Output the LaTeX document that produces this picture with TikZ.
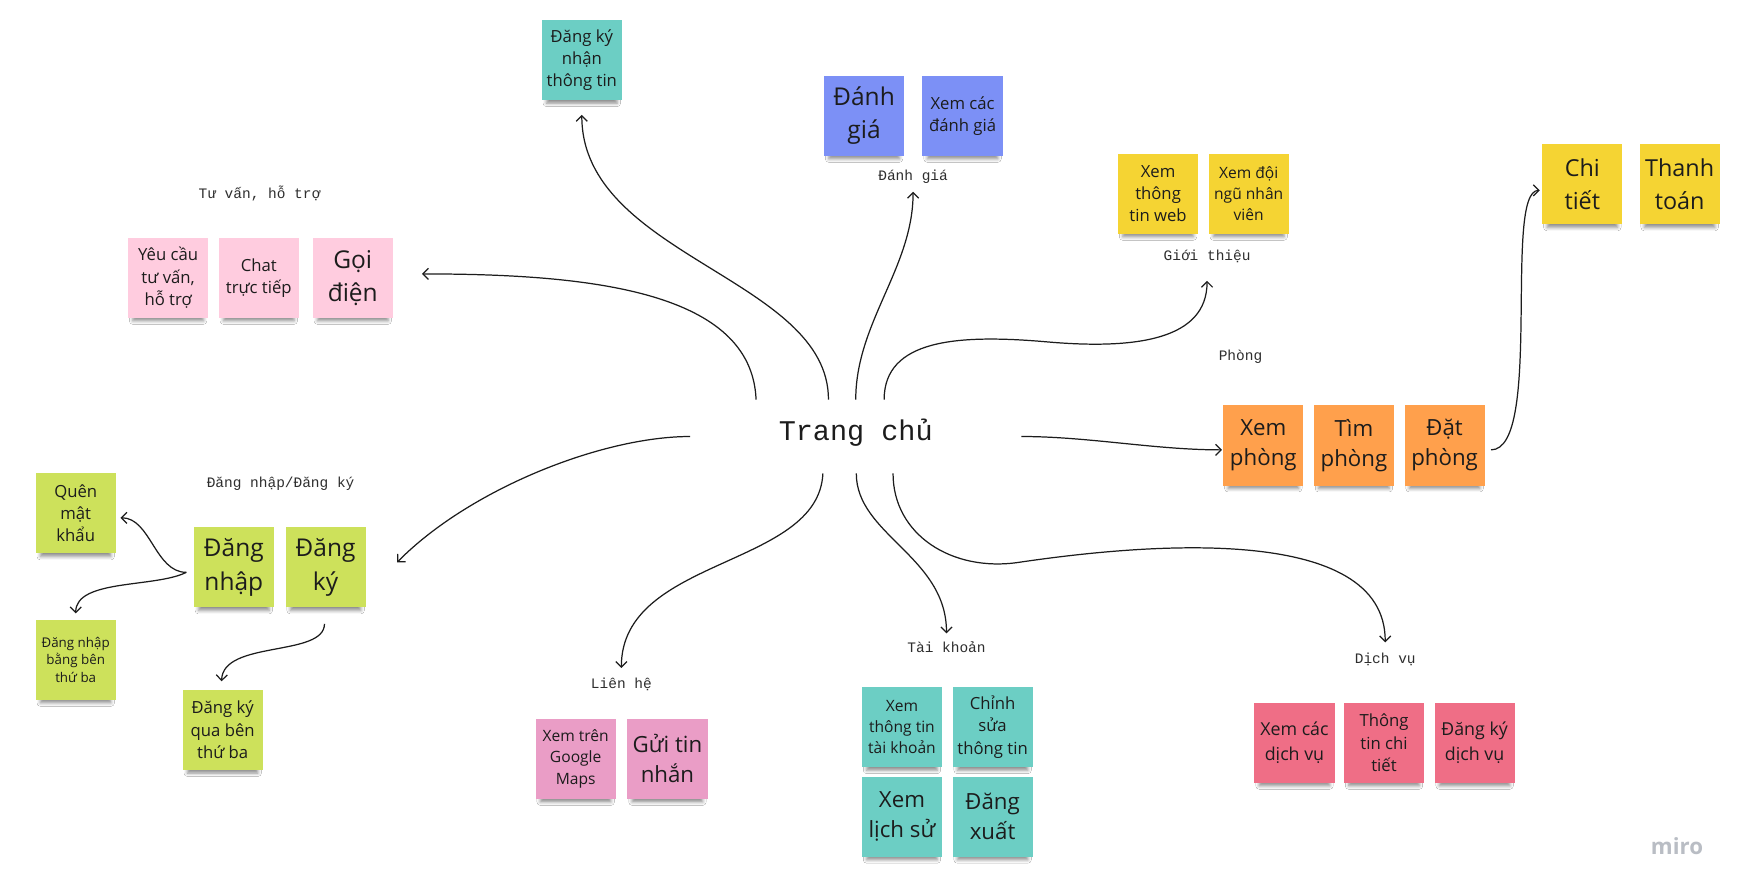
\documentclass[tikz,border=0pt]{standalone}
\usepackage{fontspec}
\setmainfont{Open Sans}
\newfontfamily\monofont{Liberation Mono}
\usetikzlibrary{arrows.meta, positioning, calc, shadows.blur}

\definecolor{ink}{HTML}{1C1C1C}
\definecolor{labelgray}{HTML}{2E2E2E}
\definecolor{stteal}{HTML}{6CCEC4}
\definecolor{stblue}{HTML}{7C90F6}
\definecolor{styellow}{HTML}{F5D433}
\definecolor{stblush}{HTML}{FFCCDF}
\definecolor{storange}{HTML}{FFA04C}
\definecolor{stlime}{HTML}{CDE15B}
\definecolor{stpink}{HTML}{EA9DC6}
\definecolor{stred}{HTML}{EF6E86}
\definecolor{markgray}{HTML}{B9BDC4}

\begin{document}
\begin{tikzpicture}[
    x=1pt, y=-1pt,
    node distance=9pt,
    sticky/.style={rectangle, fill=#1, minimum width=72pt, minimum height=72pt, inner sep=1pt, align=center, text=ink,
        blur shadow={shadow xshift=0pt, shadow yshift=-8pt, shadow scale=0.88, shadow blur radius=3.5pt, shadow opacity=45}},
    txthuge/.style={font=\fontsize{22}{30}\selectfont},
    txtbig/.style={font=\fontsize{20}{27}\selectfont},
    txtmid/.style={font=\fontsize{15}{20}\selectfont},
    txtsmall/.style={font=\fontsize{12}{16}\selectfont},
    grouplabel/.style={font=\monofont\fontsize{13}{15}\selectfont, text=labelgray, inner sep=2pt, text height=9pt, text depth=3pt},
    arrow/.style={-{Straight Barb[length=5pt, width=10pt]}, line width=1.1pt, draw=ink}
]
    \fill[white] (0,0) rectangle (1568,803);
    \useasboundingbox (0,0) rectangle (1568,803);

    % Centre
    \node[font=\monofont\fontsize{25.6}{30}\selectfont, text=ink, inner sep=0pt, text height=37pt, text depth=29pt,
        minimum width=297pt, anchor=base] (home) at (768.5,396) {Trang chủ};

    % Group labels
    \node[grouplabel] (lbtv) at (233,175) {Tư vấn, hỗ trợ};
    \node[grouplabel] (lbdg) at (820,159) {Đánh giá};
    \node[grouplabel] (lbgt) at (1084,231) {Giới thiệu};
    \node[grouplabel] (lbp) at (1114,321) {Phòng};
    \node[grouplabel] (lbdn) at (252,435) {Đăng nhập/Đăng ký};
    \node[grouplabel] (lblh) at (558,615) {Liên hệ};
    \node[grouplabel] (lbtk) at (850,583) {Tài khoản};
    \node[grouplabel] (lbdv) at (1244,593) {Dịch vụ};

    % Top
    \node[sticky=stteal, txtmid] (rcv) at (522.5,54) {Đăng ký\\nhận\\thông tin};
    \node[sticky=stblue, txthuge] (dg1) at (776,104) {Đánh\\giá};
    \node[sticky=stblue, txtmid, right=16pt of dg1] (dg2) {Xem các\\đánh giá};
    \node[sticky=styellow, txtmid] (gt1) at (1040,174) {Xem\\thông\\tin web};
    \node[sticky=styellow, txtmid, font=\fontsize{14}{19}\selectfont, right=of gt1] (gt2) {Xem đội\\ngũ nhân\\viên};
    \node[sticky=styellow, txthuge, font=\fontsize{21}{29}\selectfont] (ct) at (1421,165.5) {Chi\\tiết};
    \node[sticky=styellow, txthuge, font=\fontsize{21}{29}\selectfont, right=15pt of ct] (tt) {Thanh\\toán};

    % Left
    \node[sticky=stblush, txtmid] (tv1) at (151,249.5) {Yêu cầu\\tư vấn,\\hỗ trợ};
    \node[sticky=stblush, txtmid, right=of tv1] (tv2) {Chat\\trực tiếp};
    \node[sticky=stblush, txthuge, right=12pt of tv2] (tv3) {Gọi\\điện};
    \node[sticky=stlime, txtmid] (qmk) at (68,461) {Quên\\mật\\khẩu};
    \node[sticky=stlime, txthuge] (dn) at (210,509.5) {Đăng\\nhập};
    \node[sticky=stlime, txthuge, right=10pt of dn] (dk) {Đăng\\ký};
    \node[sticky=stlime, txtsmall] (dnb) at (68,592.5) {Đăng nhập\\bằng bên\\thứ ba};
    \node[sticky=stlime, txtmid] (dkq) at (200,655.5) {Đăng ký\\qua bên\\thứ ba};

    % Right
    \node[sticky=storange, txtbig] (p1) at (1134.5,400) {Xem\\phòng};
    \node[sticky=storange, txtbig, right=of p1] (p2) {Tìm\\phòng};
    \node[sticky=storange, txtbig, right=of p2] (p3) {Đặt\\phòng};

    % Bottom
    \node[sticky=stpink, txtmid, font=\fontsize{14}{19}\selectfont] (lh1) at (517,681.5) {Xem trên\\Google\\Maps};
    \node[sticky=stpink, txtbig, right=10pt of lh1] (lh2) {Gửi tin\\nhắn};
    \node[sticky=stteal, txtmid, font=\fontsize{14}{19}\selectfont] (tk1) at (810,653) {Xem\\thông tin\\tài khoản};
    \node[sticky=stteal, txtmid, right=of tk1] (tk2) {Chỉnh\\sửa\\thông tin};
    \node[sticky=stteal, txtbig, below=8pt of tk1] (tk3) {Xem\\lịch sử};
    \node[sticky=stteal, txtbig, below=8pt of tk2] (tk4) {Đăng\\xuất};
    \node[sticky=stred, txtmid, font=\fontsize{16}{22}\selectfont] (dv1) at (1162.5,667) {Xem các\\dịch vụ};
    \node[sticky=stred, txtmid, right=8pt of dv1] (dv2) {Thông\\tin chi\\tiết};
    \node[sticky=stred, txtmid, font=\fontsize{16}{22}\selectfont, right=of dv2] (dv3) {Đăng ký\\dịch vụ};

    \node[font=\bfseries\fontsize{20}{24}\selectfont, text=markgray] (mark) at (1506,760) {miro};

    % Arrows from the centre
    \draw[arrow] ([xshift=-89.5pt]home.north) .. controls +(-4,-97) and +(152,0) .. ($(tv3.east)+(26,-3.5)$);
    \draw[arrow] ([xshift=-24.5pt]home.north) .. controls +(0,-109) and +(0,127) .. ($(rcv.south)+(0,13)$);
    \draw[arrow] (home.north) .. controls +(0,-69) and +(0,68) .. ($(lbdg.south)+(0,5)$);
    \draw[arrow] ([xshift=25.5pt]home.north) .. controls +(0,-54) and +(-80,-7) .. (940,307)
        .. controls +(80,7) and +(0,53) .. ($(lbgt.south)+(0,13)$);
    \draw[arrow] (home.east) .. controls +(60,0) and +(-60,0) .. ($(p1.west)+(-1,4)$);
    \draw[arrow] (home.west) .. controls +(-80,0) and +(64,-65) .. ($(dk.east)+(28,-4.5)$);
    \draw[arrow] ([xshift=-29.5pt]home.south) .. controls +(-4,85) and +(0,-100) .. ($(lblh.north)+(0,-7)$);
    \draw[arrow] ([xshift=0.5pt]home.south) .. controls +(0,55) and +(0,-69) .. ($(lbtk.north)+(0,-6)$);
    \draw[arrow] ([xshift=33.5pt]home.south) .. controls +(0,55) and +(-60,9) .. (915,505)
        .. controls +(115,-17) and +(0,-107) .. ($(lbdv.north)+(0,-8)$);

    % Arrows between stickies
    \draw[arrow] ($(p3.east)+(5.5,4)$) .. controls +(47,0) and +(-33,0) .. ($(ct.west)+(-2,5.5)$);
    \draw[arrow] ($(dn.west)+(-6.5,4.5)$) .. controls +(-28,0) and +(27,0) .. ($(qmk.east)+(4,4)$);
    \draw[arrow] ($(dn.west)+(-6.5,4.5)$) .. controls +(-28,14) and +(0,-31) .. ($(dnb.north)+(0,-5.5)$);
    \draw[arrow] ($(dk.south)+(-1,14.5)$) .. controls +(0,30) and +(1,-37) .. ($(dkq.north)+(-1,-7.5)$);

\end{tikzpicture}
\end{document}
